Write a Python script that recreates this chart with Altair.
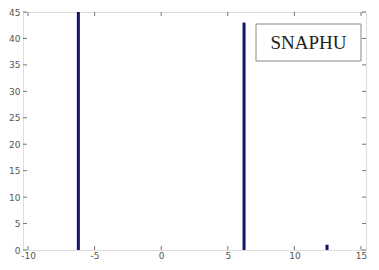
import altair as alt
import pandas as pd

# data
bin_centers = [-6.22, 6.22, 12.45]
counts = [45, 43, 1]
x_ticks = [-10, -5, 0, 5, 10, 15]
y_ticks = [0, 5, 10, 15, 20, 25, 30, 35, 40, 45]
label_text = "SNAPHU"

W, H = 343, 238
bars_df = pd.DataFrame({"x": bin_centers, "count": counts})
xt = pd.DataFrame({"v": x_ticks})
yt = pd.DataFrame({"v": y_ticks})

xs = alt.Scale(domain=[-10, 15], nice=False, zero=False)
ys = alt.Scale(domain=[0, 45], nice=False)

axis_common = dict(ticks=False, domain=False, grid=False, labelFont="DejaVu Sans",
                   labelFontSize=9, labelColor="#555", title=None, labelOverlap=False,
                   labelFlush=False, labelExpr="'' + datum.value")
x_axis = alt.Axis(values=x_ticks, labelPadding=1, **axis_common)
y_axis = alt.Axis(values=y_ticks, labelPadding=3, **axis_common)

bars = alt.Chart(bars_df).mark_bar(size=3, color="#141466", clip=True).encode(
    x=alt.X("x:Q", scale=xs, axis=x_axis),
    y=alt.Y("count:Q", scale=ys, axis=y_axis),
)

tick_col = "#777"
xb = alt.Chart(xt).mark_rule(color=tick_col, strokeWidth=1).encode(
    x=alt.X("v:Q", scale=xs, axis=x_axis), y=alt.value(H), y2=alt.value(H - 4))
xtop = alt.Chart(xt).mark_rule(color=tick_col, strokeWidth=1).encode(
    x=alt.X("v:Q", scale=xs, axis=x_axis), y=alt.value(0), y2=alt.value(4))
yl = alt.Chart(yt).mark_rule(color=tick_col, strokeWidth=1).encode(
    y=alt.Y("v:Q", scale=ys, axis=y_axis), x=alt.value(0), x2=alt.value(4))
yr = alt.Chart(yt).mark_rule(color=tick_col, strokeWidth=1).encode(
    y=alt.Y("v:Q", scale=ys, axis=y_axis), x=alt.value(W), x2=alt.value(W - 4))

box = alt.Chart(pd.DataFrame({"t": [label_text]})).mark_rect(
    fill="white", stroke="#888", strokeWidth=1).encode(
    x=alt.value(233), x2=alt.value(338), y=alt.value(12), y2=alt.value(49))
txt = alt.Chart(pd.DataFrame({"t": [label_text]})).mark_text(
    font="Liberation Serif", fontSize=19, color="#222", align="center", baseline="middle").encode(
    text="t:N", x=alt.value(285.5), y=alt.value(31))

chart = alt.layer(bars, xb, xtop, yl, yr, box, txt).properties(
    width=W, height=H,
    autosize=alt.AutoSizeParams(type="none"),
    padding={"left": 15, "top": 4, "right": 5, "bottom": 10},
).configure_view(stroke="#888", strokeWidth=1).configure(background="white")

chart.save("out.html", embed_options={"renderer": "svg", "actions": False})
